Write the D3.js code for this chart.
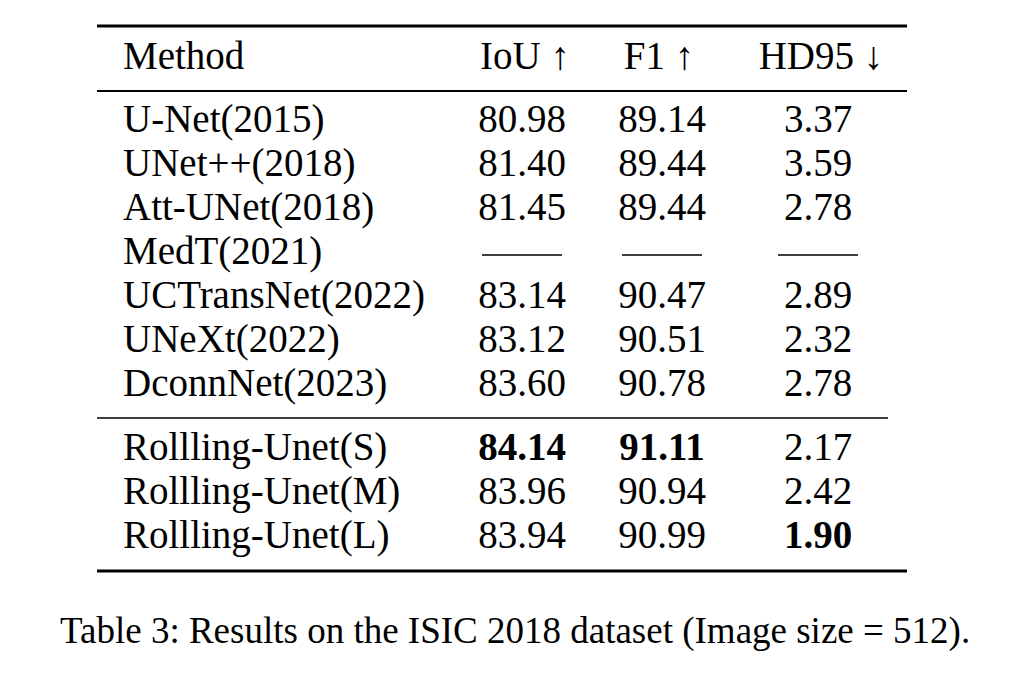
<!DOCTYPE html>
<html>
<head>
<meta charset="utf-8">
<style>
  body { margin: 0; background: white; }
  svg { display: block; }
  text { font-family: "Liberation Serif", "Times New Roman", serif; fill: black; }
</style>
<script src="https://cdn.jsdelivr.net/npm/d3@7"></script>
</head>
<body>
<svg id="main"></svg>
<script>
const headers = ["Method", "IoU \u2191", "F1 \u2191", "HD95 \u2193"];
const methods = ["U-Net(2015)", "UNet++(2018)", "Att-UNet(2018)", "MedT(2021)", "UCTransNet(2022)",
                 "UNeXt(2022)", "DconnNet(2023)", "Rollling-Unet(S)", "Rollling-Unet(M)", "Rollling-Unet(L)"];
const iou  = ["80.98", "81.40", "81.45", null, "83.14", "83.12", "83.60", "84.14", "83.96", "83.94"];
const f1   = ["89.14", "89.44", "89.44", null, "90.47", "90.51", "90.78", "91.11", "90.94", "90.99"];
const hd95 = ["3.37", "3.59", "2.78", null, "2.89", "2.32", "2.78", "2.17", "2.42", "1.90"];
const boldCells = [[7, 1], [7, 2], [9, 3]]; // [row, col]
const caption = "Table 3: Results on the ISIC 2018 dataset (Image size = 512).";

const width = 1009, height = 679;
const svg = d3.select("#main").attr("width", width).attr("height", height);

const fs = 39;
const left = 97, right = 907;
// column centres (method column is left aligned)
const colX = [123, 522, 662, 818];
const headX = [123, 525, 659, 821];
const headerY = 69;
// row baselines: 44px step, extra gap after the 7th row
const rowY = d3.scaleLinear().domain([0, 1]).range([132, 176]);
function baseline(i) { return i < 7 ? rowY(i) : rowY(i) + 20; }

// rules
const rules = [
  {y: 26, x1: left, x2: right, w: 3},
  {y: 91, x1: left, x2: right, w: 2},
  {y: 418, x1: left, x2: 888, w: 1.3},
  {y: 571, x1: left, x2: right, w: 3}
];
svg.append("g").selectAll("line").data(rules).join("line")
  .attr("x1", d => d.x1).attr("x2", d => d.x2)
  .attr("y1", d => d.y).attr("y2", d => d.y)
  .attr("stroke", "black").attr("stroke-width", d => d.w);

// header
svg.append("g").selectAll("text").data(headers).join("text")
  .attr("x", (d, i) => headX[i])
  .attr("y", headerY)
  .attr("text-anchor", (d, i) => i === 0 ? "start" : "middle")
  .attr("font-size", fs)
  .text(d => d);

const rows = methods.map((m, i) => [m, iou[i], f1[i], hd95[i]]);
const isBold = (r, c) => boldCells.some(b => b[0] === r && b[1] === c);

const g = svg.append("g");
rows.forEach((row, r) => {
  row.forEach((v, c) => {
    if (v === null) {
      // missing value drawn as a long dash
      g.append("line")
        .attr("x1", colX[c] - 40).attr("x2", colX[c] + 40)
        .attr("y1", baseline(r) - 9).attr("y2", baseline(r) - 9)
        .attr("stroke", "black").attr("stroke-width", 1.6);
      return;
    }
    g.append("text")
      .attr("x", colX[c])
      .attr("y", baseline(r))
      .attr("text-anchor", c === 0 ? "start" : "middle")
      .attr("font-size", fs)
      .attr("font-weight", isBold(r, c) ? "bold" : "normal")
      .text(v);
  });
});

svg.append("text")
  .attr("x", 60).attr("y", 643)
  .attr("font-size", 37)
  .text(caption);
</script>
</body>
</html>
